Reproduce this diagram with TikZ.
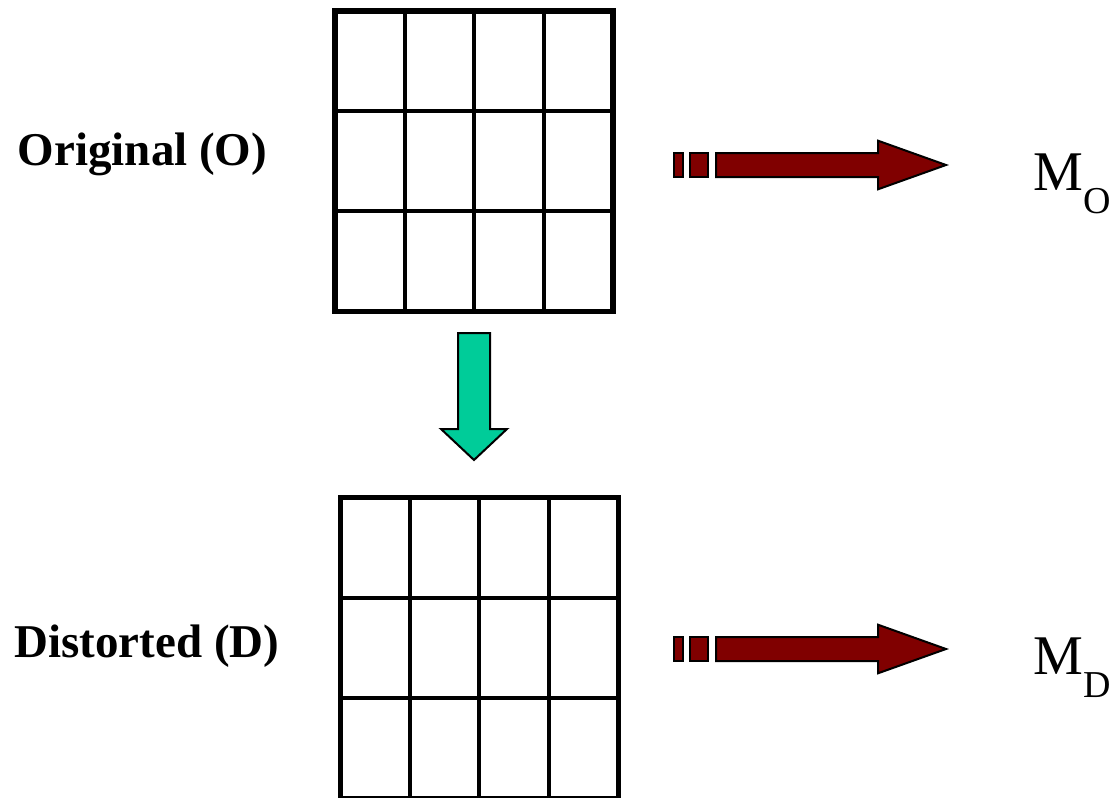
\documentclass[tikz,border=0pt]{standalone}
\usepackage{fontspec}
\setmainfont{Liberation Serif}
\usetikzlibrary{matrix,positioning,calc}
\definecolor{darkred}{RGB}{128,0,0}
\definecolor{seagreen}{RGB}{0,204,153}

\begin{document}
\begin{tikzpicture}[x=0.5pt,y=-0.5pt,
   grid/.style={matrix of nodes,nodes in empty cells,column sep=0pt,row sep=0pt,
     cells={nodes={draw,line width=1pt,minimum width=33.75pt,minimum height=49.1pt,inner sep=0pt,outer sep=0pt}},
     draw,line width=2.75pt,inner sep=0pt},
   tag/.style={font=\fontsize{23.5}{23.5}\selectfont\bfseries,anchor=base,inner sep=0pt},
   blk/.style={draw=black,line width=1pt,line join=miter}]
 \useasboundingbox (0,0) rectangle (1120,798);
 % the two 4x3 grids
 \matrix[grid] (orig) at (474,161.25) {
    & & & \\
    & & & \\
    & & & \\
 };
 \matrix[grid] (dist) at (479.25,648) {
    & & & \\
    & & & \\
    & & & \\
 };
 \node[tag] (origtag) at (142.5,165) {Original (O)};
 \node[tag] (disttag) at (147,657) {Distorted (D)};
 % down arrow between the grids
 \fill[seagreen,blk] (458,333) -- (490,333) -- (490,429) -- (507,429)
   -- (474,460) -- (441,429) -- (458,429) -- cycle;
 % block arrows with broken tail, one per row
 \foreach \y/\s in {165/O,649/D}
 {\fill[darkred,blk] (674,\y-12) rectangle (683,\y+12);
  \fill[darkred,blk] (690,\y-12) rectangle (708,\y+12);
  \fill[darkred,blk] (716,\y-12) -- (878,\y-12) -- (878,\y-24.3) -- (946,\y)
    -- (878,\y+24.3) -- (878,\y+12) -- (716,\y+12) -- cycle;
  \node[anchor=base west,inner sep=0pt,font=\fontsize{28}{28}\selectfont] (m\s) at (1033,\y+25)
    {M\raisebox{-11.5pt}{\fontsize{19}{19}\selectfont \s}};
 }
\end{tikzpicture}
\end{document}
